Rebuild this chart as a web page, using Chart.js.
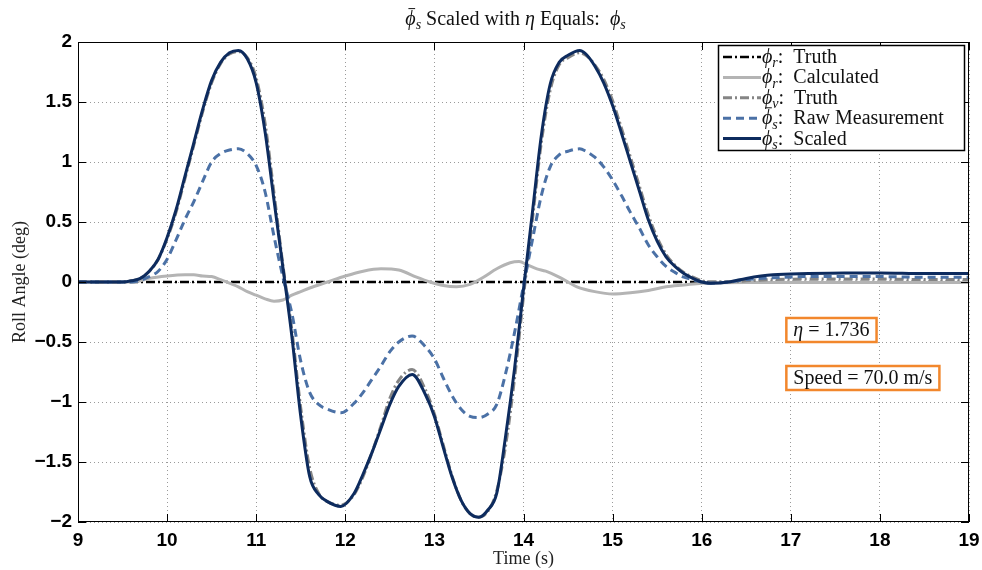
<!DOCTYPE html>
<html>
<head>
<meta charset="utf-8">
<script src="https://cdn.jsdelivr.net/npm/chart.js@4.4.1/dist/chart.umd.min.js"></script>
<style>
  html, body { margin: 0; padding: 0; background: #fff; }
  #wrap { width: 982px; height: 570px; }
</style>
</head>
<body>
<div id="wrap"><canvas id="c" width="982" height="570"></canvas></div>
<script>
// time base shared by the scaled / raw / phi_v traces
const tMain = [9.0, 9.5, 9.6, 9.7, 9.8, 9.9,
  10.0, 10.1, 10.2, 10.3, 10.4, 10.5, 10.6, 10.7, 10.8, 10.9,
  11.0, 11.1, 11.2, 11.3, 11.4, 11.5, 11.6, 11.7, 11.8, 11.95,
  12.1, 12.2, 12.3, 12.4, 12.5, 12.6, 12.75, 12.9,
  13.0, 13.1, 13.2, 13.3, 13.4, 13.5, 13.6, 13.7, 13.8, 13.9,
  14.0, 14.1, 14.2, 14.3, 14.4, 14.5, 14.63, 14.7, 14.8, 14.9,
  15.0, 15.1, 15.2, 15.3, 15.4, 15.5, 15.6, 15.7, 15.8, 15.9,
  16.0, 16.1, 16.3, 16.5, 16.8, 17.2, 17.6, 18.0, 18.5, 19.0];

const scaledVals = [0, 0, 0.01, 0.03, 0.09, 0.19,
  0.37, 0.60, 0.88, 1.16, 1.44, 1.68, 1.83, 1.91, 1.93, 1.86,
  1.66, 1.25, 0.68, 0.12, -0.45, -1.12, -1.62, -1.77, -1.83, -1.87,
  -1.76, -1.60, -1.42, -1.22, -1.02, -0.87, -0.77, -0.94,
  -1.12, -1.38, -1.63, -1.82, -1.93, -1.96, -1.90, -1.76, -1.28, -0.72,
  -0.06, 0.58, 1.22, 1.65, 1.83, 1.89, 1.93, 1.90, 1.80, 1.66,
  1.47, 1.24, 1.00, 0.76, 0.52, 0.34, 0.21, 0.13, 0.07, 0.03,
  0.0, -0.01, 0.0, 0.03, 0.06, 0.07, 0.075, 0.075, 0.07, 0.07];

const rawVals = [0, 0, 0, 0.015, 0.045, 0.09,
  0.19, 0.35, 0.52, 0.67, 0.84, 1.00, 1.07, 1.10, 1.11, 1.07,
  0.97, 0.75, 0.38, 0.04, -0.26, -0.66, -0.92, -1.02, -1.06, -1.09,
  -1.01, -0.92, -0.81, -0.70, -0.58, -0.50, -0.45, -0.54,
  -0.64, -0.80, -0.95, -1.06, -1.12, -1.13, -1.10, -1.02, -0.76, -0.42,
  -0.03, 0.35, 0.72, 0.96, 1.06, 1.09, 1.11, 1.09, 1.04, 0.96,
  0.85, 0.72, 0.58, 0.45, 0.31, 0.21, 0.13, 0.08, 0.04, 0.02,
  0.0, -0.01, 0.0, 0.02, 0.035, 0.045, 0.045, 0.045, 0.04, 0.04];

const phiVVals = [0, 0, 0.01, 0.03, 0.09, 0.19,
  0.36, 0.58, 0.86, 1.14, 1.42, 1.66, 1.82, 1.90, 1.92, 1.87,
  1.70, 1.32, 0.74, 0.14, -0.40, -1.05, -1.55, -1.76, -1.83, -1.86,
  -1.77, -1.62, -1.42, -1.20, -0.97, -0.82, -0.73, -0.90,
  -1.10, -1.36, -1.62, -1.82, -1.93, -1.96, -1.91, -1.74, -1.36, -0.80,
  -0.12, 0.52, 1.16, 1.60, 1.81, 1.87, 1.91, 1.89, 1.81, 1.69,
  1.51, 1.28, 1.04, 0.80, 0.56, 0.37, 0.23, 0.14, 0.08, 0.04,
  0.01, 0.0, 0.0, 0.01, 0.02, 0.025, 0.025, 0.025, 0.02, 0.02];

const tCalc = [9.0, 9.6, 9.7, 9.8, 10.0,
  10.2, 10.3, 10.4, 10.5, 10.6, 10.7, 10.8, 10.9,
  11.0, 11.1, 11.2, 11.3, 11.4, 11.5, 11.6,
  11.8, 12.0, 12.2, 12.4, 12.6, 12.8, 12.95,
  13.1, 13.25, 13.4, 13.55, 13.7, 13.85, 13.95,
  14.05, 14.15, 14.25, 14.4, 14.5, 14.6, 14.8,
  15.0, 15.2, 15.4, 15.6, 15.8,
  16.0, 16.5, 17.0, 19.0];
const calcVals = [0, 0, 0.01, 0.03, 0.05,
  0.06, 0.06, 0.05, 0.045, 0.02, -0.01, -0.04, -0.08,
  -0.11, -0.14, -0.16, -0.15, -0.11, -0.08, -0.05,
  0.0, 0.05, 0.09, 0.11, 0.10, 0.04, 0.0,
  -0.03, -0.04, -0.02, 0.04, 0.11, 0.16, 0.17,
  0.14, 0.11, 0.09, 0.04, 0.0, -0.04, -0.08,
  -0.10, -0.09, -0.07, -0.04, -0.025,
  -0.01, -0.005, -0.005, -0.005];

const tTruth = [9, 19];
const truthVals = [0, 0];

// legend text: symbol subscript, barred symbol?, name
const seriesSub = ['r', 'r', 'v', 's', 's'];
const seriesBar = [false, false, false, true, false];
const seriesName = ['Truth', 'Calculated', 'Truth', 'Raw Measurement', 'Scaled'];

const xTicks = [9, 10, 11, 12, 13, 14, 15, 16, 17, 18, 19];
const yTicks = [-2, -1.5, -1, -0.5, 0, 0.5, 1, 1.5, 2];

// text boxes placed in data units
const noteX = [16.95, 16.95];
const noteY = [-0.4, -0.8];
const noteParts = [
  [['η', 'i'], [' = 1.736', 'n']],
  [['Speed = 70.0 m/s', 'n']]
];

const SERIF = '"Liberation Serif", "DejaVu Serif", serif';
const SANS = '"Liberation Sans", Arial, sans-serif';
const ORANGE = '#f2872c';

const pts = (ts, vs) => ts.map((t, i) => ({ x: t, y: vs[i] }));

function fontFor(st, size) {
  return (st === 'n' ? '' : 'italic ') + (st === 'sub' ? Math.round(size * 0.72) : size) + 'px ' + SERIF;
}

function textWidth(ctx, parts, size) {
  let w = 0;
  parts.forEach(([t, st]) => { ctx.font = fontFor(st, size); w += ctx.measureText(t).width; });
  return w;
}

// draws a line of text with italic symbols and subscripts
function richText(ctx, parts, x, y, size, align) {
  const w = textWidth(ctx, parts, size);
  let cx = align === 'center' ? x - w / 2 : x;
  ctx.textAlign = 'left';
  ctx.textBaseline = 'alphabetic';
  parts.forEach(([t, st]) => {
    ctx.font = fontFor(st, size);
    const tw = ctx.measureText(t).width;
    ctx.fillText(t, cx, st === 'sub' ? y + size * 0.22 : y);
    if (st === 'bar') {
      ctx.beginPath();
      ctx.lineWidth = 1;
      ctx.moveTo(cx + tw * 0.3, y - size * 0.82);
      ctx.lineTo(cx + tw * 0.95, y - size * 0.82);
      ctx.stroke();
    }
    cx += tw;
  });
  return w;
}

const titlePlugin = {
  id: 'richTitle',
  afterDraw(chart) {
    const { ctx, chartArea: a } = chart;
    ctx.save();
    ctx.fillStyle = '#111';
    ctx.strokeStyle = '#111';
    richText(ctx, [['ϕ', 'bar'], ['s', 'sub'], [' Scaled with ', 'n'], ['η', 'i'], [' Equals:  ', 'n'], ['ϕ', 'i'], ['s', 'sub']],
      (a.left + a.right) / 2 - 8, 25, 20, 'center');
    ctx.restore();
  }
};

const framePlugin = {
  id: 'frame',
  afterDatasetsDraw(chart) {
    const { ctx, chartArea: a, scales: { x, y } } = chart;
    ctx.save();
    ctx.strokeStyle = '#000';
    ctx.lineWidth = 1;
    ctx.strokeRect(a.left + 0.5, a.top + 0.5, a.right - a.left - 1, a.bottom - a.top - 1);
    ctx.beginPath();
    x.ticks.forEach(t => {
      const px = Math.round(x.getPixelForValue(t.value)) + 0.5;
      ctx.moveTo(px, a.bottom); ctx.lineTo(px, a.bottom - 8);
      ctx.moveTo(px, a.top); ctx.lineTo(px, a.top + 8);
    });
    y.ticks.forEach(t => {
      const py = Math.round(y.getPixelForValue(t.value)) + 0.5;
      ctx.moveTo(a.left, py); ctx.lineTo(a.left + 8, py);
      ctx.moveTo(a.right, py); ctx.lineTo(a.right - 8, py);
    });
    ctx.stroke();
    ctx.restore();
  }
};

const legendPlugin = {
  id: 'boxLegend',
  afterDatasetsDraw(chart) {
    const { ctx, chartArea: a } = chart;
    const w = 246, h = 105;
    const bx = a.right - 5 - w, by = a.top + 3;
    ctx.save();
    ctx.fillStyle = '#fff';
    ctx.fillRect(bx, by, w, h);
    ctx.strokeStyle = '#000';
    ctx.lineWidth = 1.5;
    ctx.strokeRect(bx + 0.5, by + 0.5, w, h);
    chart.data.datasets.forEach((ds, i) => {
      const ry = by + 12 + i * 20.4;
      ctx.beginPath();
      ctx.strokeStyle = ds.borderColor;
      ctx.lineWidth = ds.borderWidth;
      ctx.setLineDash(ds.borderDash || []);
      ctx.moveTo(bx + 5, ry);
      ctx.lineTo(bx + 43, ry);
      ctx.stroke();
      ctx.setLineDash([]);
      ctx.fillStyle = '#111';
      ctx.strokeStyle = '#111';
      richText(ctx, [['ϕ', seriesBar[i] ? 'bar' : 'i'], [seriesSub[i], 'sub'], [':\u2002' + seriesName[i], 'n']],
        bx + 44, ry + 6, 20, 'left');
    });
    ctx.restore();
  }
};

const notePlugin = {
  id: 'notes',
  afterDatasetsDraw(chart) {
    const { ctx, scales: { x, y } } = chart;
    ctx.save();
    noteParts.forEach((parts, i) => {
      const px = x.getPixelForValue(noteX[i]);
      const py = y.getPixelForValue(noteY[i]);
      const tw = textWidth(ctx, parts, 20);
      const bw = tw + 14, bh = 24;
      ctx.fillStyle = '#fff';
      ctx.fillRect(px, py - bh / 2, bw, bh);
      ctx.strokeStyle = ORANGE;
      ctx.lineWidth = 2.5;
      ctx.strokeRect(px, py - bh / 2, bw, bh);
      ctx.fillStyle = '#111';
      richText(ctx, parts, px + 7, py + 6, 20, 'left');
    });
    ctx.restore();
  }
};

const ctx = document.getElementById('c').getContext('2d');
new Chart(ctx, {
  type: 'line',
  data: {
    datasets: [
      { label: 'phi_r: Truth', data: pts(tTruth, truthVals), borderColor: '#000', borderWidth: 2.5, borderDash: [9, 3, 2, 3], order: 5 },
      { label: 'phi_r: Calculated', data: pts(tCalc, calcVals), borderColor: '#b4b4b4', borderWidth: 3, order: 4 },
      { label: 'phi_v: Truth', data: pts(tMain, phiVVals), borderColor: '#858585', borderWidth: 3, borderDash: [9, 3, 2, 3], order: 3 },
      { label: 'phi_s: Raw Measurement', data: pts(tMain, rawVals), borderColor: '#4b71a6', borderWidth: 3, borderDash: [8, 5], order: 2 },
      { label: 'phi_s: Scaled', data: pts(tMain, scaledVals), borderColor: '#0d2b5e', borderWidth: 3, order: 1 }
    ]
  },
  options: {
    responsive: false,
    animation: false,
    layout: { padding: { top: 42, right: 13, left: 0, bottom: 0 } },
    elements: {
      point: { radius: 0 },
      line: { tension: 0.4, cubicInterpolationMode: 'monotone', fill: false }
    },
    plugins: {
      legend: { display: false },
      title: { display: false },
      tooltip: { enabled: false }
    },
    scales: {
      x: {
        type: 'linear',
        min: 9, max: 19,
        afterBuildTicks: s => { s.ticks = xTicks.map(v => ({ value: v })); },
        afterFit: s => { s.height = 48; s.paddingRight = 0; s.paddingLeft = 0; },
        ticks: {
          color: '#000', padding: 7, maxRotation: 0,
          font: { family: SANS, weight: 'bold', size: 19 },
          callback: v => String(v)
        },
        grid: { color: '#9a9a9a', lineWidth: 1, drawTicks: false },
        border: { display: false, dash: [1, 3] },
        title: { display: true, text: 'Time (s)', color: '#222', font: { family: SERIF, size: 18 }, padding: { top: 0, bottom: 0 } }
      },
      y: {
        min: -2, max: 2,
        afterBuildTicks: s => { s.ticks = yTicks.map(v => ({ value: v })); },
        afterFit: s => { s.width = 78; s.paddingTop = 0; s.paddingBottom = 0; },
        ticks: {
          color: '#000', padding: 6,
          font: { family: SANS, weight: 'bold', size: 19 },
          callback: v => String(v).replace('-', '\u2212')
        },
        grid: { color: '#9a9a9a', lineWidth: 1, drawTicks: false },
        border: { display: false, dash: [1, 3] },
        title: { display: true, text: 'Roll Angle (deg)', color: '#222', font: { family: SERIF, size: 18 }, padding: { top: 9, bottom: 0 } }
      }
    }
  },
  plugins: [framePlugin, notePlugin, legendPlugin, titlePlugin]
});
</script>
</body>
</html>
